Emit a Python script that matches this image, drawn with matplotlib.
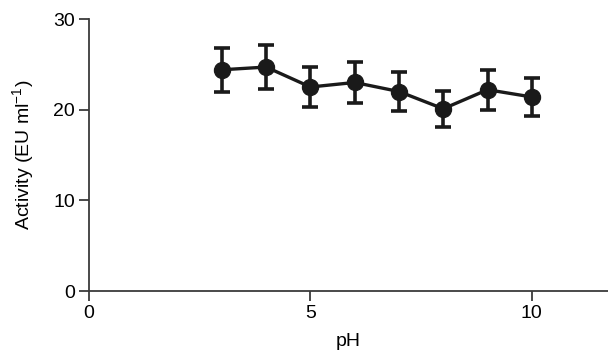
import matplotlib.pyplot as plt

#----- Data -----
ph = [ 3, 4, 5, 6, 7, 8, 9, 10 ]
activity = [ 24.4, 24.7, 22.5, 23.0, 22.0, 20.1, 22.2, 21.4 ]
activity_err = [ 2.4, 2.4, 2.2, 2.3, 2.2, 2.0, 2.2, 2.1 ]

x_ticks = [ 0, 5, 10 ]
y_ticks = [ 0, 10, 20, 30 ]

#----- Font -----
plt.rcParams.update({ "font.family": "Liberation Sans", "font.size": 14 })

#----- Plot -----
fig = plt.figure( figsize=(6.08, 3.52), dpi=100 )
ax = fig.add_axes( [ 89/608, 61/352, 1 - 89/608, 272/352 ] )

ax.errorbar( ph, activity, yerr=activity_err, color="#1a1a1a", lw=2.4,
	marker="o", ms=11.5, elinewidth=2.6, capsize=6, capthick=2.6 )

ax.set_xlim( 0, 11.72 )
ax.set_ylim( 0, 30 )
ax.set_xticks( x_ticks )
ax.set_yticks( y_ticks )

for side in [ "top", "right" ]:
	ax.spines[side].set_visible( False )
for side in [ "left", "bottom" ]:
	ax.spines[side].set_color( "#3a3a3a" )
	ax.spines[side].set_linewidth( 1.3 )

ax.tick_params( direction="out", length=7, width=1.3, color="#3a3a3a", labelsize=14, pad=3 )
ax.set_xlabel( "pH", fontsize=14, labelpad=8 )
ax.set_ylabel( r"Activity (EU ml$^{\mathregular{-1}}$)", fontsize=14, labelpad=12 )

fig.savefig( "out.png", dpi=100 )
